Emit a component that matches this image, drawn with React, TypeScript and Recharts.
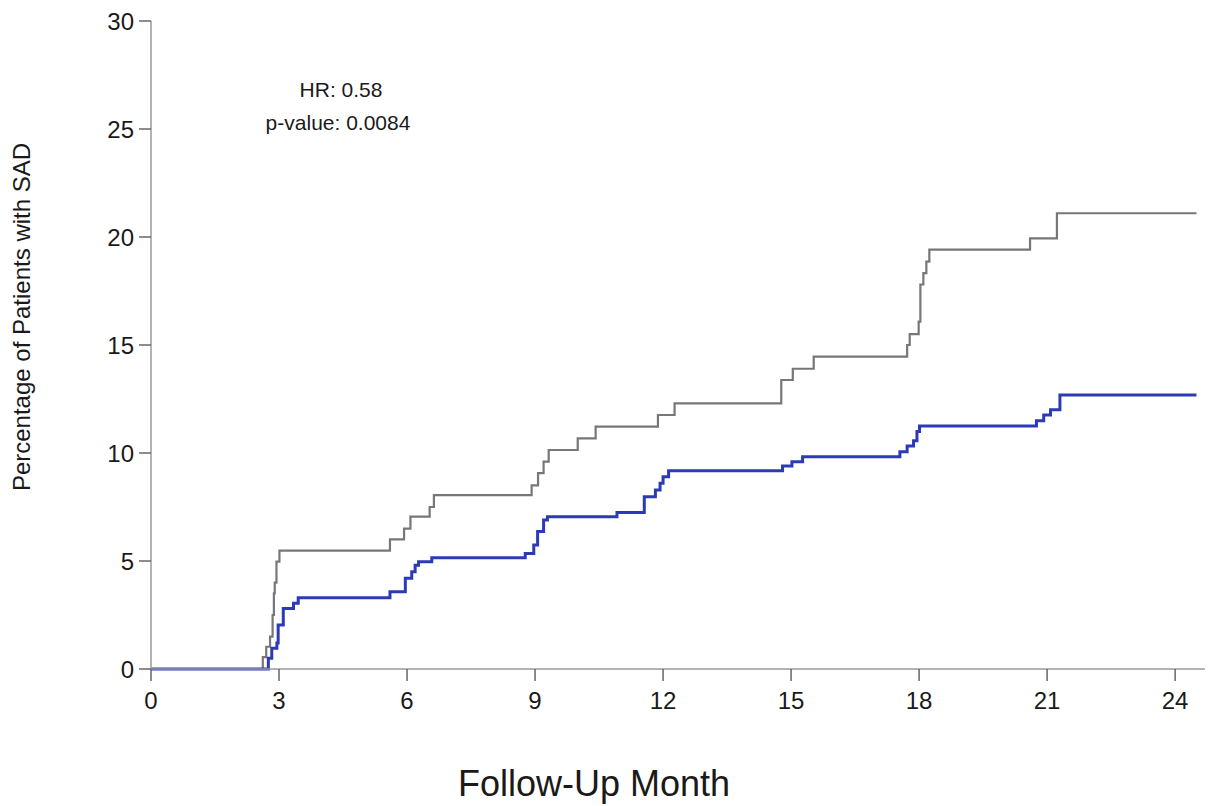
import React from "react";
import { LineChart, Line, XAxis, YAxis } from "recharts";

const xTicks = [0, 3, 6, 9, 12, 15, 18, 21, 24];
const yTicks = [0, 5, 10, 15, 20, 25, 30];

const grayTimes = [0, 2.62, 2.7, 2.79, 2.85, 2.88, 2.9, 2.94, 3.01, 5.6, 5.93, 6.08, 6.53, 6.63, 8.92, 9.07, 9.2, 9.32, 10.0, 10.42, 11.88, 12.27, 14.77, 15.04, 15.53, 17.72, 17.78, 17.99, 18.03, 18.1, 18.17, 18.24, 20.6, 21.23, 24.5];
const grayValues = [0, 0.55, 1.03, 1.5, 2.5, 3.5, 4.0, 4.97, 5.48, 6.0, 6.5, 7.05, 7.5, 8.05, 8.5, 9.07, 9.6, 10.14, 10.68, 11.22, 11.76, 12.3, 13.38, 13.9, 14.46, 15.0, 15.5, 16.08, 17.8, 18.33, 18.86, 19.42, 19.94, 21.1, 21.1];

const blueTimes = [0, 2.75, 2.83, 2.95, 2.98, 3.1, 3.34, 3.45, 5.6, 5.96, 6.11, 6.19, 6.27, 6.58, 8.77, 8.97, 9.06, 9.2, 9.29, 10.92, 11.56, 11.82, 11.93, 12.0, 12.13, 14.8, 15.02, 15.27, 17.55, 17.72, 17.87, 17.95, 18.01, 20.75, 20.92, 21.08, 21.3, 24.5];
const blueValues = [0, 0.5, 0.96, 1.2, 2.04, 2.8, 3.04, 3.3, 3.58, 4.2, 4.5, 4.8, 4.97, 5.15, 5.35, 5.74, 6.36, 6.9, 7.05, 7.25, 7.98, 8.29, 8.6, 8.9, 9.18, 9.4, 9.6, 9.83, 10.06, 10.32, 10.57, 10.99, 11.25, 11.49, 11.76, 12.0, 12.68, 12.68];

const grayData = grayTimes.map((t, i) => ({ t, v: grayValues[i] }));
const blueData = blueTimes.map((t, i) => ({ t, v: blueValues[i] }));

const FONT = "'Liberation Sans', Arial, sans-serif";

export default function App() {
  return (
    <div style={{ position: "absolute", left: 0, top: 0, width: 1208, height: 806, background: "#fff", fontFamily: FONT }}>
      <LineChart width={1208} height={806} margin={{ top: 21, right: 3, bottom: 77, left: 0 }}>
        <XAxis
          dataKey="t"
          type="number"
          domain={[0, 24.7]}
          ticks={xTicks}
          allowDataOverflow
          allowDuplicatedCategory={false}
          height={60}
          tickSize={12}
          tickMargin={11}
          axisLine={{ stroke: "#9a9a9a", strokeWidth: 1.5 }}
          tickLine={{ stroke: "#666", strokeWidth: 1.5 }}
          tick={{ fill: "#1a1a1a", fontSize: 24, fontFamily: FONT }}
        />
        <YAxis
          dataKey="v"
          type="number"
          domain={[0, 30]}
          ticks={yTicks}
          width={151}
          tickSize={12}
          tickMargin={5}
          axisLine={{ stroke: "#9a9a9a", strokeWidth: 1.5 }}
          tickLine={{ stroke: "#666", strokeWidth: 1.5 }}
          tick={{ fill: "#1a1a1a", fontSize: 24, fontFamily: FONT }}
        />
        <Line data={grayData} dataKey="v" type="stepAfter" stroke="#777777" strokeWidth={2.2} dot={false} isAnimationActive={false} />
        <Line data={blueData} dataKey="v" type="stepAfter" stroke="#2c3ab5" strokeWidth={3} dot={false} isAnimationActive={false} />
      </LineChart>
      <svg width={1208} height={806} style={{ position: "absolute", left: 0, top: 0, pointerEvents: "none" }}>
        <text x={341} y={97} textAnchor="middle" fontSize={21} fill="#1a1a1a" fontFamily={FONT}>HR: 0.58</text>
        <text x={338} y={130} textAnchor="middle" fontSize={21} fill="#1a1a1a" fontFamily={FONT}>p-value: 0.0084</text>
        <text x={594} y={796} textAnchor="middle" fontSize={36} fill="#1a1a1a" fontFamily={FONT}>Follow-Up Month</text>
        <text transform="translate(30,317) rotate(-90)" textAnchor="middle" fontSize={24} fill="#1a1a1a" fontFamily={FONT}>Percentage of Patients with SAD</text>
      </svg>
    </div>
  );
}
